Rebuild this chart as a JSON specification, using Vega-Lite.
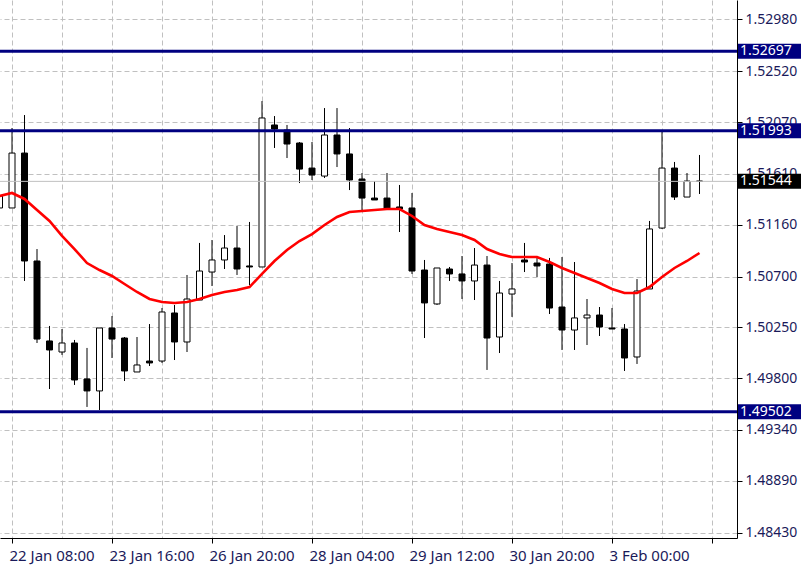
{
  "$schema": "https://vega.github.io/schema/vega-lite/v6.json",
  "width": 737,
  "height": 538,
  "padding": {"left": 0, "top": 0, "right": 67, "bottom": 29},
  "autosize": {"type": "none"},
  "background": "white",
  "config": {"view": {"stroke": null}, "font": "Noto Sans"},
  "datasets": {
    "candles": [
      {"i": -1, "o": 1.51308, "h": 1.51432, "l": 1.51308, "c": 1.51414},
      {"i": 0, "o": 1.51308, "h": 1.52017, "l": 1.51308, "c": 1.51795},
      {"i": 1, "o": 1.51795, "h": 1.52132, "l": 1.50661, "c": 1.50838},
      {"i": 2, "o": 1.50838, "h": 1.50944, "l": 1.50111, "c": 1.50146},
      {"i": 3, "o": 1.50129, "h": 1.50262, "l": 1.49703, "c": 1.50049},
      {"i": 4, "o": 1.50031, "h": 1.50235, "l": 1.50005, "c": 1.50111},
      {"i": 5, "o": 1.50111, "h": 1.50138, "l": 1.49739, "c": 1.49783},
      {"i": 6, "o": 1.49792, "h": 1.50067, "l": 1.49544, "c": 1.49686},
      {"i": 7, "o": 1.49686, "h": 1.50244, "l": 1.49517, "c": 1.50244},
      {"i": 8, "o": 1.50244, "h": 1.5035, "l": 1.49978, "c": 1.50146},
      {"i": 9, "o": 1.50155, "h": 1.50164, "l": 1.49774, "c": 1.49863},
      {"i": 10, "o": 1.49854, "h": 1.50164, "l": 1.49854, "c": 1.49916},
      {"i": 11, "o": 1.49951, "h": 1.50279, "l": 1.49907, "c": 1.49934},
      {"i": 12, "o": 1.49951, "h": 1.50421, "l": 1.49934, "c": 1.50386},
      {"i": 13, "o": 1.50377, "h": 1.50448, "l": 1.4996, "c": 1.5012},
      {"i": 14, "o": 1.5012, "h": 1.50714, "l": 1.50031, "c": 1.50501},
      {"i": 15, "o": 1.50492, "h": 1.50998, "l": 1.50492, "c": 1.50749},
      {"i": 16, "o": 1.5074, "h": 1.51024, "l": 1.50616, "c": 1.50847},
      {"i": 17, "o": 1.50847, "h": 1.51068, "l": 1.50767, "c": 1.50953},
      {"i": 18, "o": 1.50953, "h": 1.51148, "l": 1.50714, "c": 1.50767},
      {"i": 19, "o": 1.50794, "h": 1.51184, "l": 1.50625, "c": 1.50785},
      {"i": 20, "o": 1.50785, "h": 1.52256, "l": 1.50785, "c": 1.52106},
      {"i": 21, "o": 1.52044, "h": 1.52123, "l": 1.5184, "c": 1.52008},
      {"i": 22, "o": 1.51999, "h": 1.52044, "l": 1.51751, "c": 1.51875},
      {"i": 23, "o": 1.51884, "h": 1.51893, "l": 1.51529, "c": 1.51653},
      {"i": 24, "o": 1.51662, "h": 1.51893, "l": 1.51556, "c": 1.516},
      {"i": 25, "o": 1.51591, "h": 1.52194, "l": 1.51574, "c": 1.51955},
      {"i": 26, "o": 1.51955, "h": 1.52194, "l": 1.51671, "c": 1.51787},
      {"i": 27, "o": 1.51787, "h": 1.52017, "l": 1.51467, "c": 1.51556},
      {"i": 28, "o": 1.51565, "h": 1.51618, "l": 1.5129, "c": 1.51396},
      {"i": 29, "o": 1.51396, "h": 1.51547, "l": 1.51379, "c": 1.51379},
      {"i": 30, "o": 1.51396, "h": 1.51618, "l": 1.51299, "c": 1.51308},
      {"i": 31, "o": 1.51317, "h": 1.51512, "l": 1.51095, "c": 1.51299},
      {"i": 32, "o": 1.51308, "h": 1.51441, "l": 1.50723, "c": 1.50749},
      {"i": 33, "o": 1.50758, "h": 1.50847, "l": 1.50155, "c": 1.50466},
      {"i": 34, "o": 1.50457, "h": 1.50776, "l": 1.50448, "c": 1.50776},
      {"i": 35, "o": 1.50767, "h": 1.50785, "l": 1.50661, "c": 1.50723},
      {"i": 36, "o": 1.50723, "h": 1.50882, "l": 1.50501, "c": 1.50661},
      {"i": 37, "o": 1.50661, "h": 1.50953, "l": 1.50492, "c": 1.50802},
      {"i": 38, "o": 1.50802, "h": 1.50882, "l": 1.49872, "c": 1.50155},
      {"i": 39, "o": 1.50164, "h": 1.50661, "l": 1.50022, "c": 1.50554},
      {"i": 40, "o": 1.50545, "h": 1.5082, "l": 1.50342, "c": 1.5059},
      {"i": 41, "o": 1.50847, "h": 1.50998, "l": 1.5074, "c": 1.50829},
      {"i": 42, "o": 1.5082, "h": 1.50882, "l": 1.50696, "c": 1.50794},
      {"i": 43, "o": 1.50811, "h": 1.50865, "l": 1.50368, "c": 1.50421},
      {"i": 44, "o": 1.5043, "h": 1.50873, "l": 1.50049, "c": 1.50226},
      {"i": 45, "o": 1.50226, "h": 1.50829, "l": 1.50049, "c": 1.50333},
      {"i": 46, "o": 1.50333, "h": 1.50501, "l": 1.50093, "c": 1.50359},
      {"i": 47, "o": 1.50359, "h": 1.5043, "l": 1.50173, "c": 1.50253},
      {"i": 48, "o": 1.50244, "h": 1.50421, "l": 1.50235, "c": 1.50235},
      {"i": 49, "o": 1.50235, "h": 1.50279, "l": 1.49863, "c": 1.49978},
      {"i": 50, "o": 1.49987, "h": 1.50678, "l": 1.49925, "c": 1.50572},
      {"i": 51, "o": 1.5059, "h": 1.51193, "l": 1.5059, "c": 1.51122},
      {"i": 52, "o": 1.5113, "h": 1.51982, "l": 1.51122, "c": 1.51662},
      {"i": 53, "o": 1.51662, "h": 1.51716, "l": 1.51379, "c": 1.51405},
      {"i": 54, "o": 1.51405, "h": 1.51618, "l": 1.51405, "c": 1.51547},
      {"i": 55, "o": 1.51547, "h": 1.51778, "l": 1.51432, "c": 1.51544}
    ],
    "ma": [
      {"i": -1, "v": 1.51414}, {"i": 0, "v": 1.51441}, {"i": 1, "v": 1.51388}, {"i": 2, "v": 1.5129},
      {"i": 3, "v": 1.51193}, {"i": 4, "v": 1.5106}, {"i": 5, "v": 1.50944}, {"i": 6, "v": 1.5082},
      {"i": 7, "v": 1.50758}, {"i": 8, "v": 1.50705}, {"i": 9, "v": 1.50634}, {"i": 10, "v": 1.50563},
      {"i": 11, "v": 1.50501}, {"i": 12, "v": 1.50474}, {"i": 13, "v": 1.50466}, {"i": 14, "v": 1.50474},
      {"i": 15, "v": 1.50501}, {"i": 16, "v": 1.50537}, {"i": 17, "v": 1.50563}, {"i": 18, "v": 1.50581},
      {"i": 19, "v": 1.50607}, {"i": 20, "v": 1.50723}, {"i": 21, "v": 1.50838}, {"i": 22, "v": 1.50935},
      {"i": 23, "v": 1.51015}, {"i": 24, "v": 1.51077}, {"i": 25, "v": 1.51157}, {"i": 26, "v": 1.51228},
      {"i": 27, "v": 1.51272}, {"i": 28, "v": 1.51281}, {"i": 29, "v": 1.5129}, {"i": 30, "v": 1.51299},
      {"i": 31, "v": 1.51299}, {"i": 32, "v": 1.51237}, {"i": 33, "v": 1.51157}, {"i": 34, "v": 1.51122},
      {"i": 35, "v": 1.51095}, {"i": 36, "v": 1.51068}, {"i": 37, "v": 1.51024}, {"i": 38, "v": 1.50944},
      {"i": 39, "v": 1.509}, {"i": 40, "v": 1.50873}, {"i": 41, "v": 1.50873}, {"i": 42, "v": 1.50873},
      {"i": 43, "v": 1.50829}, {"i": 44, "v": 1.50776}, {"i": 45, "v": 1.50732}, {"i": 46, "v": 1.50687},
      {"i": 47, "v": 1.50643}, {"i": 48, "v": 1.5059}, {"i": 49, "v": 1.50554}, {"i": 50, "v": 1.50554},
      {"i": 51, "v": 1.50607}, {"i": 52, "v": 1.50696}, {"i": 53, "v": 1.50776}, {"i": 54, "v": 1.50838},
      {"i": 55, "v": 1.50909}
    ],
    "levels": [
      {"p": 1.52697, "kind": "level"},
      {"p": 1.51993, "kind": "level"},
      {"p": 1.49502, "kind": "level"},
      {"p": 1.51544, "kind": "bid"}
    ]
  },
  "layer": [
    {
      "data": {"name": "candles"},
      "mark": {"type": "rule", "color": "black", "strokeWidth": 1, "clip": true},
      "encoding": {
        "x": {
          "field": "i", "type": "quantitative",
          "scale": {"domain": [-0.96, 58], "nice": false, "zero": false, "padding": 0},
          "axis": {
            "orient": "bottom",
            "values": [0, 4, 8, 12, 16, 20, 24, 28, 32, 36, 40, 44, 48, 52, 56],
            "title": null,
            "grid": true, "gridColor": "#c0c0c0", "gridDash": [5, 3], "gridWidth": 1,
            "domainColor": "black", "domainWidth": 1,
            "tickColor": "black", "tickSize": 5, "tickWidth": 1,
            "tickOpacity": {"condition": {"test": "datum.value % 8 === 0", "value": 1}, "value": 0},
            "labelExpr": "datum.value == 0 ? '22 Jan 08:00' : datum.value == 8 ? '23 Jan 16:00' : datum.value == 16 ? '26 Jan 20:00' : datum.value == 24 ? '28 Jan 04:00' : datum.value == 32 ? '29 Jan 12:00' : datum.value == 40 ? '30 Jan 20:00' : datum.value == 48 ? '3 Feb 00:00' : ''",
            "labelAlign": "left", "labelOffset": -3, "labelPadding": 5,
            "labelFont": "Noto Sans", "labelFontSize": 15, "labelColor": "#1a1a5a",
            "labelOverlap": false, "labelFlush": false, "labelBound": false
          }
        },
        "y": {
          "field": "l", "type": "quantitative",
          "scale": {"domain": [1.48382, 1.53152], "nice": false, "zero": false, "padding": 0},
          "axis": {
            "orient": "right",
            "values": [1.4843, 1.4889, 1.4934, 1.498, 1.5025, 1.507, 1.5116, 1.5161, 1.5207, 1.5252, 1.5298],
            "format": ".5f",
            "title": null,
            "grid": true, "gridColor": "#c0c0c0", "gridDash": [5, 3], "gridWidth": 1,
            "domainColor": "black", "domainWidth": 1,
            "tickColor": "black", "tickSize": 5, "tickWidth": 1,
            "labelPadding": 3, "labelAlign": "left", "labelBaseline": "middle",
            "labelFont": "Noto Sans", "labelFontSize": 14, "labelColor": "#1a1a5a",
            "labelOverlap": false, "labelFlush": false, "labelBound": false
          }
        },
        "y2": {"field": "h"}
      }
    },
    {
      "data": {"name": "candles"},
      "mark": {"type": "bar", "orient": "vertical", "width": 6, "stroke": "black", "strokeWidth": 1, "clip": true},
      "encoding": {
        "x": {"field": "i", "type": "quantitative"},
        "y": {"field": "o", "type": "quantitative"},
        "y2": {"field": "c"},
        "fill": {"condition": {"test": "datum.c >= datum.o", "value": "white"}, "value": "black"}
      }
    },
    {
      "data": {"name": "ma"},
      "mark": {"type": "line", "color": "#ff0000", "strokeWidth": 2.6, "clip": true},
      "encoding": {
        "x": {"field": "i", "type": "quantitative"},
        "y": {"field": "v", "type": "quantitative"}
      }
    },
    {
      "data": {"name": "levels"},
      "transform": [{"filter": "datum.kind == 'bid'"}],
      "mark": {"type": "rule", "color": "#c0c0c0", "strokeWidth": 1},
      "encoding": {
        "y": {"field": "p", "type": "quantitative"}
      }
    },
    {
      "data": {"name": "levels"},
      "transform": [{"filter": "datum.kind == 'level'"}],
      "mark": {"type": "rule", "color": "#000080", "strokeWidth": 3},
      "encoding": {
        "y": {"field": "p", "type": "quantitative"}
      }
    },
    {
      "data": {"name": "levels"},
      "mark": {"type": "rule", "strokeWidth": 15, "strokeCap": "butt", "clip": false},
      "encoding": {
        "x": {"datum": 58.08, "type": "quantitative"},
        "x2": {"datum": 63.12},
        "y": {"field": "p", "type": "quantitative"},
        "color": {"condition": {"test": "datum.kind == 'bid'", "value": "black"}, "value": "#000080"}
      }
    },
    {
      "data": {"name": "levels"},
      "mark": {"type": "text", "align": "left", "baseline": "middle", "dx": 3, "font": "Noto Sans", "fontSize": 14, "color": "white", "clip": false},
      "encoding": {
        "x": {"datum": 58, "type": "quantitative"},
        "y": {"field": "p", "type": "quantitative"},
        "text": {"field": "p", "type": "quantitative", "format": ".5f"}
      }
    }
  ]
}
